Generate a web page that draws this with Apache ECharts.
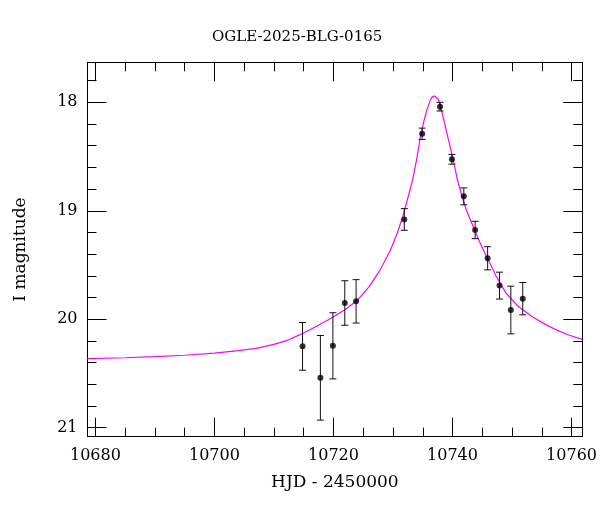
<!DOCTYPE html>
<html>
<head>
<meta charset="utf-8">
<script src="https://cdn.jsdelivr.net/npm/echarts@6/dist/echarts.min.js"></script>
<style>html,body{margin:0;padding:0;background:#fff}#c{width:600px;height:512px}</style>
</head>
<body>
<div id="c"></div>
<script>
// Observed photometry
const obsT   = [10714.8, 10717.8, 10719.9, 10721.9, 10723.8, 10731.9, 10734.9, 10737.9, 10739.9, 10741.9, 10743.8, 10745.9, 10747.9, 10749.8, 10751.8];
const obsMag = [20.25, 20.54, 20.245, 19.85, 19.835, 19.08, 18.29, 18.04, 18.525, 18.867, 19.177, 19.438, 19.69, 19.915, 19.81];
const obsErr = [0.22, 0.39, 0.305, 0.205, 0.20, 0.10, 0.052, 0.04, 0.045, 0.078, 0.08, 0.107, 0.124, 0.22, 0.149];

// Model curve
const modelT   = [10678.6, 10685, 10690, 10695, 10700, 10704, 10707, 10710, 10712, 10714.5, 10717, 10719.6, 10722, 10723.9, 10726, 10727.9, 10729.5, 10730.7, 10731.6, 10732.3, 10733.3, 10734, 10734.6, 10735.2, 10735.7, 10736.3, 10736.6, 10737.0, 10737.3, 10737.6, 10738.0, 10738.4, 10739.0, 10739.6, 10740.2, 10740.7, 10741.5, 10742.3, 10743.5, 10744.5, 10745.7, 10747.3, 10749.0, 10751, 10753.4, 10755.5, 10757.5, 10759.5, 10761.8];
const modelMag = [20.364, 20.355, 20.345, 20.332, 20.312, 20.29, 20.268, 20.232, 20.2, 20.14, 20.07, 19.99, 19.91, 19.83, 19.70, 19.54, 19.37, 19.21, 19.06, 18.92, 18.716, 18.52, 18.317, 18.17, 18.07, 17.975, 17.95, 17.942, 17.952, 17.972, 18.04, 18.13, 18.27, 18.41, 18.55, 18.686, 18.85, 18.99, 19.15, 19.28, 19.42, 19.6, 19.76, 19.88, 19.977, 20.045, 20.1, 20.145, 20.185];

// Axes
const xMin = 10678.67, xMax = 10761.8;
const yMin = 17.631, yMax = 21.083;
const xMajor = [10680, 10700, 10720, 10740, 10760];
const xMinor = [10685, 10690, 10695, 10705, 10710, 10715, 10725, 10730, 10735, 10745, 10750, 10755];
const yMajor = [18, 19, 20, 21];
const yMinor = [17.8, 18.2, 18.4, 18.6, 18.8, 19.2, 19.4, 19.6, 19.8, 20.2, 20.4, 20.6, 20.8];

const FONT = 'DejaVu Serif';
const chart = echarts.init(document.getElementById('c'), null, {renderer: 'canvas'});

function xAx(pos, ticks, len, showLine, labels) {
  return {
    type: 'value', position: pos, min: xMin, max: xMax,
    axisLine: {show: showLine, onZero: false, lineStyle: {color: '#000', width: 1}},
    axisTick: {show: true, inside: true, length: len, customValues: ticks, lineStyle: {color: '#000', width: 1}},
    axisLabel: labels ? {show: true, customValues: ticks, margin: 11, color: '#000', fontFamily: FONT, fontSize: 16, formatter: v => String(Math.round(v))} : {show: false},
    splitLine: {show: false}
  };
}
function yAx(pos, ticks, len, showLine, labels) {
  return {
    type: 'value', position: pos, min: yMin, max: yMax, inverse: true,
    axisLine: {show: showLine, onZero: false, lineStyle: {color: '#000', width: 1}},
    axisTick: {show: true, inside: true, length: len, customValues: ticks, lineStyle: {color: '#000', width: 1}},
    axisLabel: labels ? {show: true, customValues: ticks, margin: 10, color: '#000', fontFamily: FONT, fontSize: 16, formatter: v => String(Math.round(v))} : {show: false},
    splitLine: {show: false}
  };
}

const xAxes = [xAx('bottom', xMajor, 19, true, true), xAx('bottom', xMinor, 9, false, false), xAx('top', xMajor, 19, true, false), xAx('top', xMinor, 9, false, false)];
Object.assign(xAxes[0], {name: 'HJD - 2450000', nameLocation: 'middle', nameGap: 37, nameTextStyle: {color: '#000', fontFamily: FONT, fontSize: 17}});
const yAxes = [yAx('left', yMajor, 19, true, true), yAx('left', yMinor, 9, false, false), yAx('right', yMajor, 19, true, false), yAx('right', yMinor, 9, false, false)];
Object.assign(yAxes[0], {name: 'I magnitude', nameLocation: 'middle', nameGap: 58, nameTextStyle: {color: '#000', fontFamily: FONT, fontSize: 17}});

const errData = obsT.map((t, i) => [t, obsMag[i] - obsErr[i], obsMag[i] + obsErr[i]]);

chart.setOption({
  animation: false,
  backgroundColor: '#fff',
  title: {text: 'OGLE-2025-BLG-0165', left: 207, top: 25, textStyle: {color: '#000', fontFamily: FONT, fontSize: 15, fontWeight: 'normal'}},
  grid: {left: 87.5, right: 13, top: 62.3, bottom: 75.3, containLabel: false},
  xAxis: xAxes,
  yAxis: yAxes,
  series: [
    {
      type: 'line', xAxisIndex: 0, yAxisIndex: 0,
      data: modelT.map((t, i) => [t, modelMag[i]]),
      showSymbol: false, smooth: false,
      lineStyle: {color: '#ff00ff', width: 1.2}, z: 2
    },
    {
      type: 'custom', xAxisIndex: 0, yAxisIndex: 0,
      data: errData,
      renderItem: function (params, api) {
        const t = api.value(0);
        const p1 = api.coord([t, api.value(1)]);
        const p2 = api.coord([t, api.value(2)]);
        const w = 3.5;
        const st = {stroke: '#111', lineWidth: 1};
        return {type: 'group', children: [
          {type: 'line', shape: {x1: p1[0], y1: p1[1], x2: p2[0], y2: p2[1]}, style: st},
          {type: 'line', shape: {x1: p1[0] - w, y1: p1[1], x2: p1[0] + w, y2: p1[1]}, style: st},
          {type: 'line', shape: {x1: p2[0] - w, y1: p2[1], x2: p2[0] + w, y2: p2[1]}, style: st}
        ]};
      },
      z: 3
    },
    {
      type: 'scatter', xAxisIndex: 0, yAxisIndex: 0,
      data: obsT.map((t, i) => [t, obsMag[i]]),
      symbol: 'circle', symbolSize: 6,
      itemStyle: {color: '#000'}, z: 4
    }
  ]
});
</script>
</body>
</html>
